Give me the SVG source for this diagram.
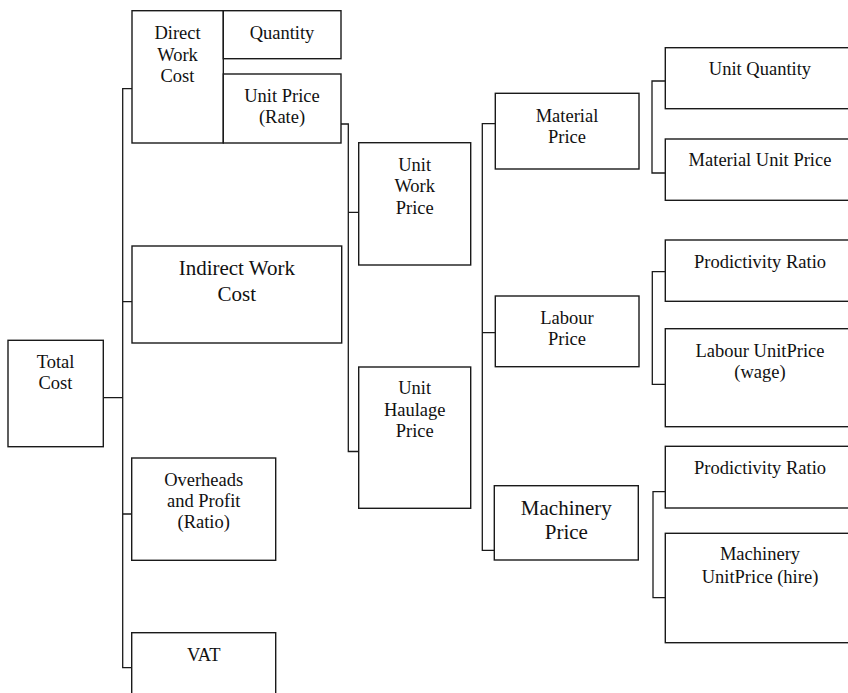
<svg xmlns="http://www.w3.org/2000/svg" width="848" height="693" viewBox="0 0 848 693">
<style>
.box{fill:#fff;stroke:#1a1a1a;stroke-width:1.4}
.con{fill:none;stroke:#1a1a1a;stroke-width:1.3}
.t text{font-size:18.5px;fill:#111;text-anchor:middle}
.t .big{font-size:21px}
</style>
<rect width="848" height="693" fill="#fff"/>
<g id="connectors">
<path class="con" d="M132,88.7H122.7V667.7H131.7M122.7,301.7H132M103.3,397.7H122.7M122.7,514H131.7"/>
<path class="con" d="M341,124H348.3V451.5H358.7M348.3,212.3H358.7"/>
<path class="con" d="M495.3,123.7H482.3V550.3H494.3M482.3,332.7H495.3"/>
<path class="con" d="M665.3,81H652V173H665.3"/>
<path class="con" d="M665.3,271.7H652.3V384.3H665.3"/>
<path class="con" d="M665.3,491.7H653V597.7H665.3"/>
</g>
<g class="t" font-family="Liberation Serif, Times New Roman, Times, serif">
<g id="total-cost"><rect class="box" x="8" y="340.3" width="95.3" height="106.4"/><text x="55.5" y="367.7">Total</text><text x="55.5" y="389.3">Cost</text></g>
<g id="direct-work-cost"><rect class="box" x="132" y="10.7" width="91.3" height="132.3"/><text x="177.5" y="39">Direct</text><text x="177.5" y="60.7">Work</text><text x="177.5" y="82.3">Cost</text></g>
<g id="quantity"><rect class="box" x="223.3" y="10.7" width="117.7" height="48"/><text x="282" y="39">Quantity</text></g>
<g id="unit-price"><rect class="box" x="223.3" y="74" width="117.7" height="69"/><text x="282" y="101.7">Unit Price</text><text x="282" y="123.4">(Rate)</text></g>
<g id="indirect-work-cost"><rect class="box" x="132" y="246" width="209.7" height="97"/><text class="big" x="236.8" y="275.3">Indirect Work</text><text class="big" x="236.8" y="301">Cost</text></g>
<g id="overheads"><rect class="box" x="131.7" y="458" width="144" height="102.3"/><text x="203.7" y="486">Overheads</text><text x="203.7" y="507">and Profit</text><text x="203.7" y="528.3">(Ratio)</text></g>
<g id="vat"><rect class="box" x="131.7" y="632.7" width="144" height="70"/><text x="203.7" y="660.7">VAT</text></g>
<g id="unit-work-price"><rect class="box" x="358.7" y="142.7" width="112" height="122.3"/><text x="414.7" y="170.7">Unit</text><text x="414.7" y="192.3">Work</text><text x="414.7" y="214">Price</text></g>
<g id="unit-haulage-price"><rect class="box" x="358.7" y="367" width="112" height="141.3"/><text x="414.7" y="394">Unit</text><text x="414.7" y="415.7">Haulage</text><text x="414.7" y="436.7">Price</text></g>
<g id="material-price"><rect class="box" x="495.3" y="93.3" width="143.7" height="75.7"/><text x="567" y="121.5">Material</text><text x="567" y="142.5">Price</text></g>
<g id="labour-price"><rect class="box" x="495.3" y="296" width="143.7" height="70.7"/><text x="567" y="324">Labour</text><text x="567" y="345">Price</text></g>
<g id="machinery-price"><rect class="box" x="494.3" y="485.7" width="144" height="74.3"/><text class="big" x="566.3" y="515">Machinery</text><text class="big" x="566.3" y="539">Price</text></g>
<g id="unit-quantity"><rect class="box" x="665.3" y="47.7" width="195" height="61"/><text x="760" y="75.3">Unit Quantity</text></g>
<g id="material-unit-price"><rect class="box" x="665.3" y="139" width="195" height="61.3"/><text x="760" y="166">Material Unit Price</text></g>
<g id="productivity-ratio-1"><rect class="box" x="665.3" y="240" width="195" height="61.3"/><text x="760" y="267.7">Prodictivity Ratio</text></g>
<g id="labour-unit-price"><rect class="box" x="665.3" y="328.7" width="195" height="98"/><text x="760" y="356.7">Labour UnitPrice</text><text x="760" y="378">(wage)</text></g>
<g id="productivity-ratio-2"><rect class="box" x="665.3" y="446.3" width="195" height="61.7"/><text x="760" y="473.7">Prodictivity Ratio</text></g>
<g id="machinery-unit-price"><rect class="box" x="665.3" y="533.3" width="195" height="109.4"/><text x="760" y="560">Machinery</text><text x="760" y="582.7">UnitPrice (hire)</text></g>
</g>
</svg>
